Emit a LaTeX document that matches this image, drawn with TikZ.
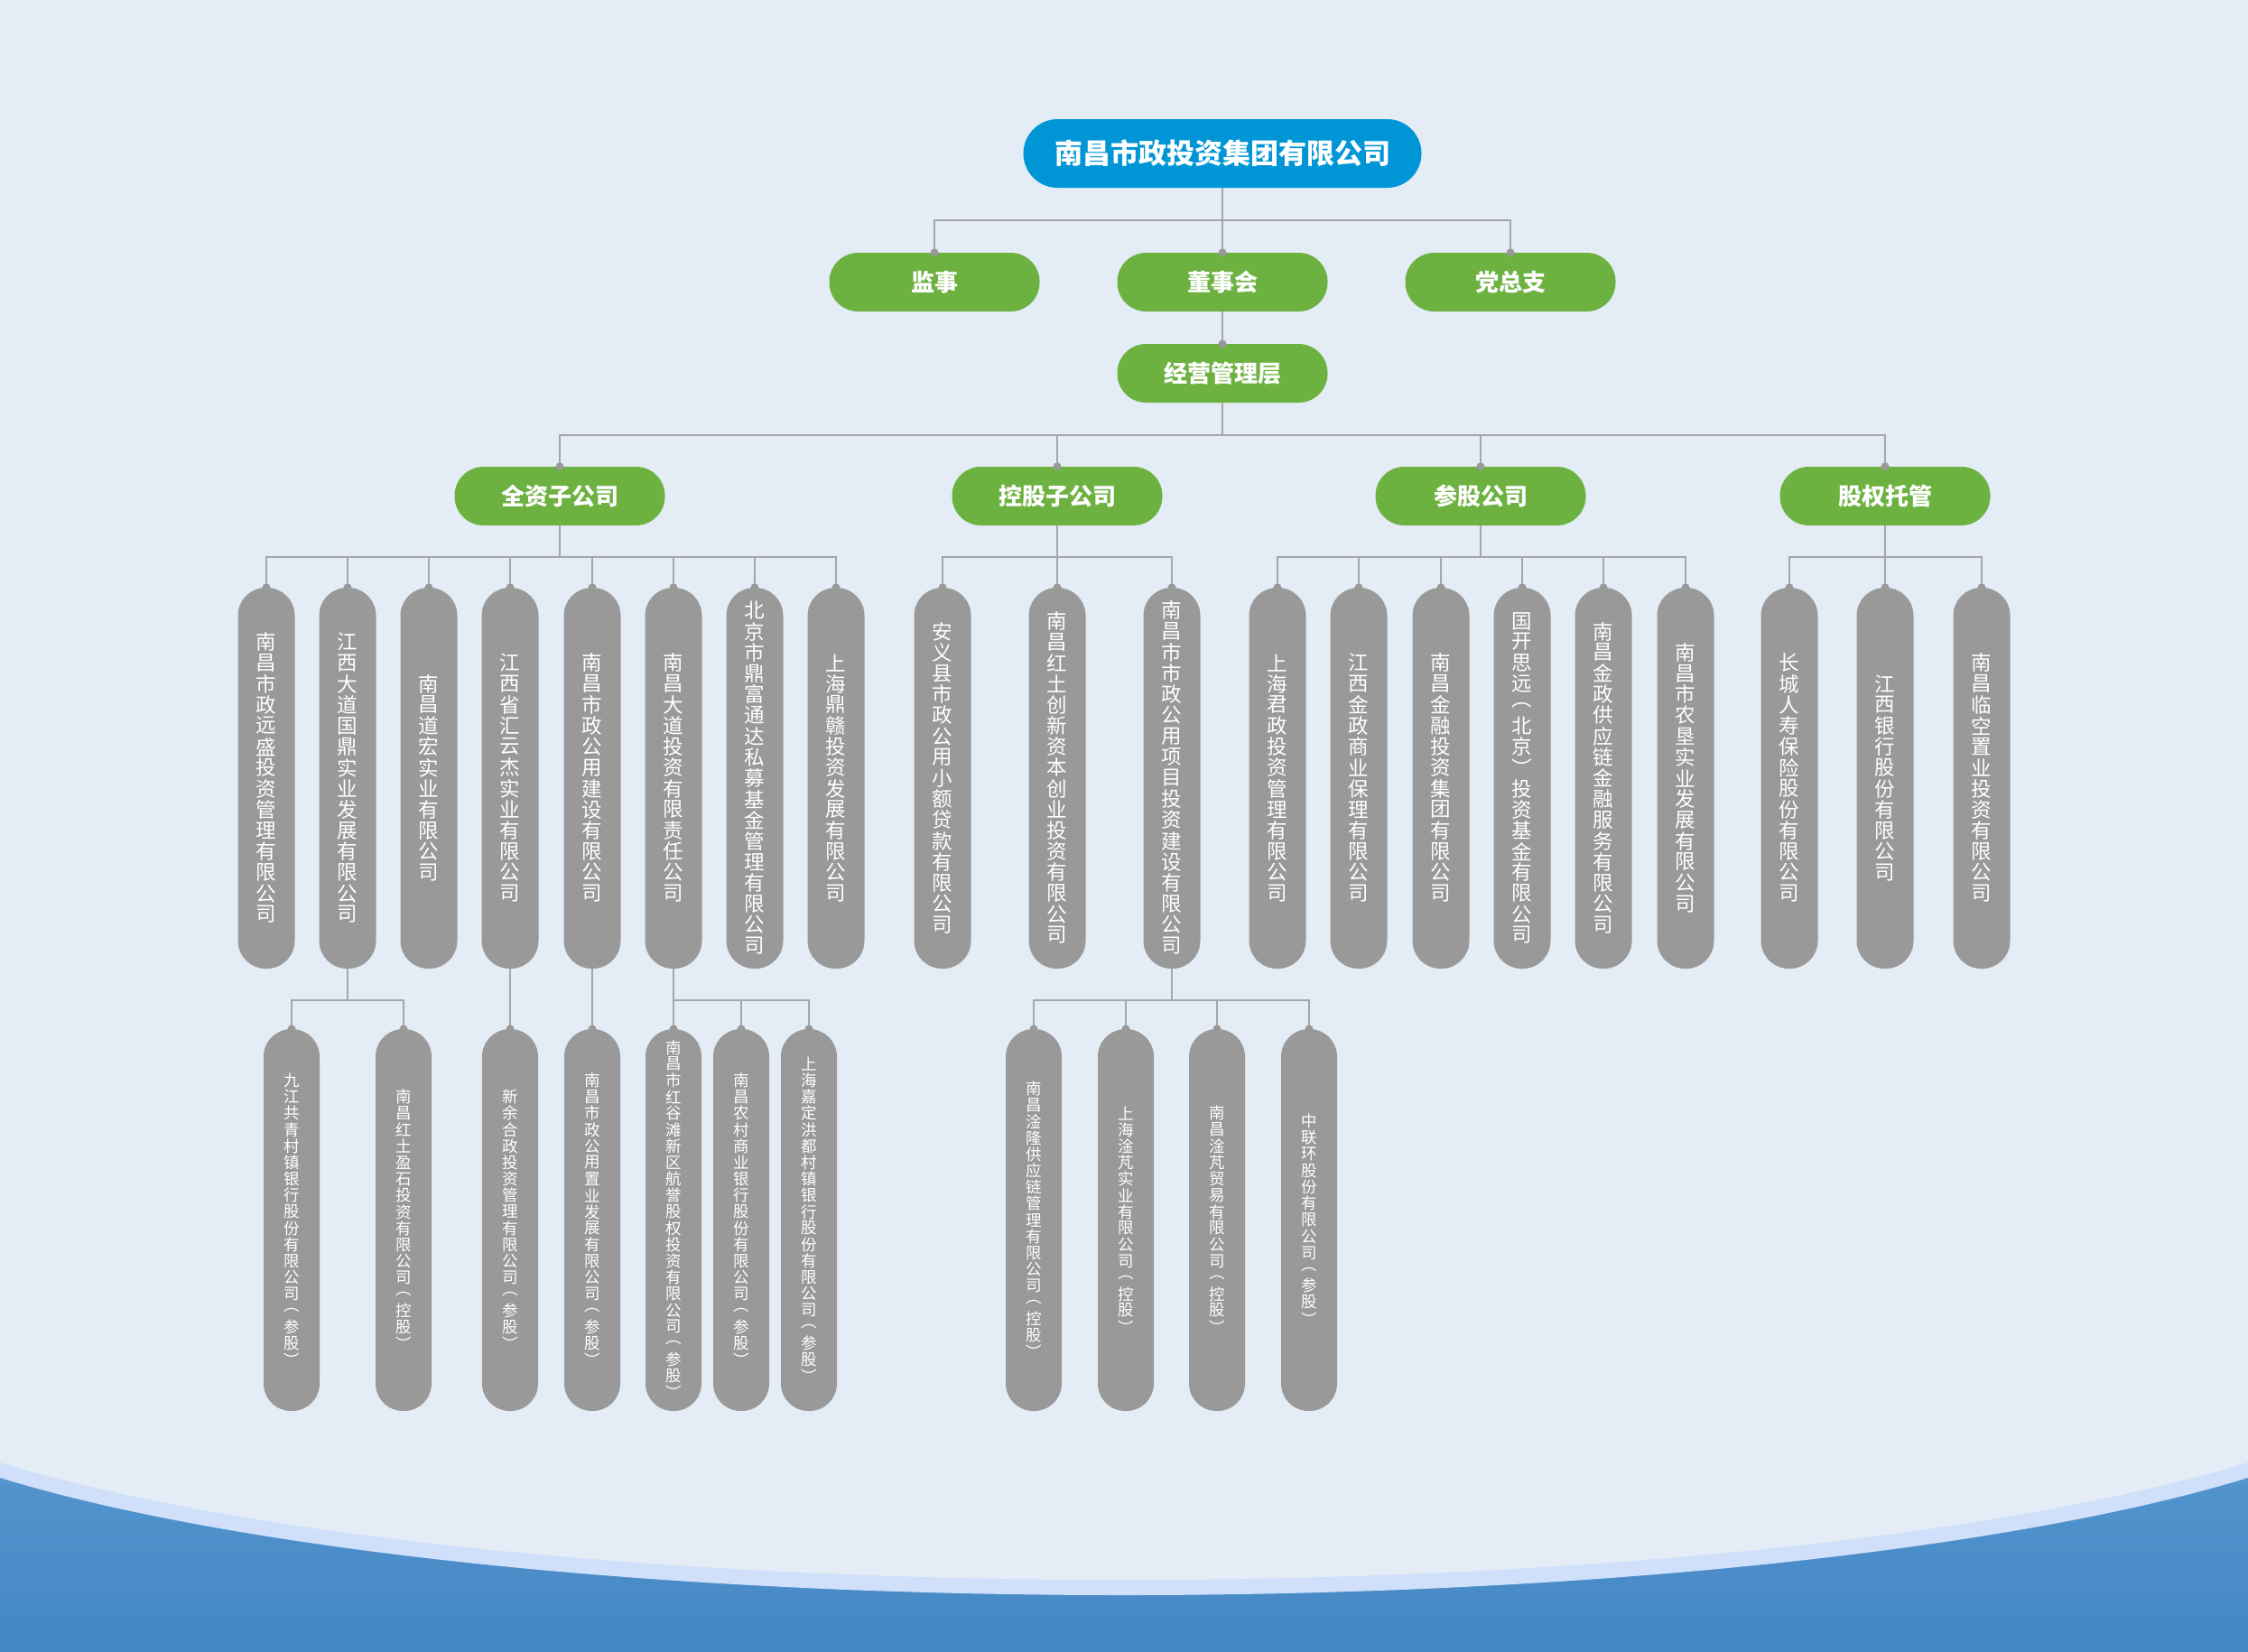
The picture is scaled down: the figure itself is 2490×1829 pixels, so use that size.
\documentclass[tikz,border=0pt]{standalone}
\usepackage{fontspec}
\setmainfont{Noto Sans CJK SC}
\definecolor{bgc}{HTML}{E4EDF5}
\definecolor{bandc}{HTML}{D0E0FA}
\definecolor{bluetop}{HTML}{5E9DD3}
\definecolor{bluebot}{HTML}{4387C4}
\definecolor{titlec}{HTML}{0096D6}
\definecolor{greenc}{HTML}{6DB241}
\definecolor{pillc}{HTML}{999999}
\definecolor{linec}{HTML}{A6A6A6}
\definecolor{dotcol}{HTML}{999999}
\newdimen\vpitch
\def\vt#1#2{\vbox{\offinterlineskip\vpitch=#1\relax\vtA#2\relax}}
\def\vtA#1{\ifx\relax#1\else\hbox to 1.1em{\hss\vbox to\vpitch{\vss\hbox{#1}\vss}\hss}\expandafter\vtA\fi}
\newcommand\vtL[1]{\vt{23.2pt}{#1}}
\newcommand\vtS[1]{\vt{18.2pt}{#1}}
\newcommand\orglink[3]{\draw[conn] (#1.south) -- ++(0,#3) -| (#2.north);\fill[dotcol] (#2.north) circle[radius=4.5pt];}
\tikzset{
  conn/.style={draw=linec, line width=1.6pt},
  topnode/.style={fill=titlec, rounded corners=38pt, minimum width=441pt, minimum height=76pt, text=white, inner sep=0pt, font=\bfseries\fontsize{31}{34}\selectfont},
  gnode/.style={fill=greenc, rounded corners=32pt, minimum width=233pt, minimum height=65pt, text=white, inner sep=0pt, font=\bfseries\fontsize{26}{28}\selectfont},
  pillA/.style={fill=pillc, rounded corners=31pt, minimum width=63pt, minimum height=422pt, text=white, inner sep=0pt, font=\fontsize{22.5}{23}\selectfont},
  pillB/.style={fill=pillc, rounded corners=30.5pt, minimum width=62pt, minimum height=423pt, text=white, inner sep=0pt, font=\fontsize{17.5}{18}\selectfont},
}
\begin{document}
\begin{tikzpicture}[x=1pt, y=-1pt]
\useasboundingbox (0,0) rectangle (2490,1829);
\fill[bgc] (0,0) rectangle (2490,1829);
% bottom wave
\begin{scope}
  \clip (0,1500) rectangle (2490,1829);
  \shade[top color=bluetop, bottom color=bluebot] (0,1500) rectangle (2490,1829);
  \fill[bandc] (1245,1500) ellipse [x radius=1450pt, y radius=267pt];
  \fill[bgc] (1245,1483) ellipse [x radius=1450pt, y radius=267pt];
\end{scope}

% top levels
\node[topnode] (top) at (1354,170) {南昌市政投资集团有限公司};
\node[gnode] (js) at (1035,312.5) {监事};
\node[gnode] (dsh) at (1354,312.5) {董事会};
\node[gnode] (dzz) at (1673,312.5) {党总支};
\node[gnode] (jy) at (1354,413.5) {经营管理层};
\node[gnode] (qz) at (620,549.5) {全资子公司};
\node[gnode] (kg) at (1171,549.5) {控股子公司};
\node[gnode] (cg) at (1640,549.5) {参股公司};
\node[gnode] (gq) at (2088,549.5) {股权托管};

% row 1
\node[pillA] (a1) at (295,862) {\vtL{南昌市政远盛投资管理有限公司}};
\node[pillA] (a2) at (385,862) {\vtL{江西大道国鼎实业发展有限公司}};
\node[pillA] (a3) at (475,862) {\vtL{南昌道宏实业有限公司}};
\node[pillA] (a4) at (565,862) {\vtL{江西省汇云杰实业有限公司}};
\node[pillA] (a5) at (656,862) {\vtL{南昌市政公用建设有限公司}};
\node[pillA] (a6) at (746,862) {\vtL{南昌大道投资有限责任公司}};
\node[pillA] (a7) at (836,862) {\vtL{北京市鼎富通达私募基金管理有限公司}};
\node[pillA] (a8) at (926,862) {\vtL{上海鼎赣投资发展有限公司}};
\node[pillA] (b1) at (1044,862) {\vtL{安义县市政公用小额贷款有限公司}};
\node[pillA] (b2) at (1171,862) {\vtL{南昌红土创新资本创业投资有限公司}};
\node[pillA] (b3) at (1298,862) {\vtL{南昌市市政公用项目投资建设有限公司}};
\node[pillA] (c1) at (1415,862) {\vtL{上海君政投资管理有限公司}};
\node[pillA] (c2) at (1505,862) {\vtL{江西金政商业保理有限公司}};
\node[pillA] (c3) at (1596,862) {\vtL{南昌金融投资集团有限公司}};
\node[pillA] (c4) at (1686,862) {\vtL{国开思远︵北京︶投资基金有限公司}};
\node[pillA] (c5) at (1776,862) {\vtL{南昌金政供应链金融服务有限公司}};
\node[pillA] (c6) at (1867,862) {\vtL{南昌市农垦实业发展有限公司}};
\node[pillA] (d1) at (1982,862) {\vtL{长城人寿保险股份有限公司}};
\node[pillA] (d2) at (2088,862) {\vtL{江西银行股份有限公司}};
\node[pillA] (d3) at (2195,862) {\vtL{南昌临空置业投资有限公司}};

% row 2
\node[pillB] (e1) at (323,1351.5) {\vtS{九江共青村镇银行股份有限公司︵参股︶}};
\node[pillB] (e2) at (447,1351.5) {\vtS{南昌红土盈石投资有限公司︵控股︶}};
\node[pillB] (e3) at (565,1351.5) {\vtS{新余合政投资管理有限公司︵参股︶}};
\node[pillB] (e4) at (656,1351.5) {\vtS{南昌市政公用置业发展有限公司︵参股︶}};
\node[pillB] (e5) at (746,1351.5) {\vtS{南昌市红谷滩新区航誉股权投资有限公司︵参股︶}};
\node[pillB] (e6) at (821,1351.5) {\vtS{南昌农村商业银行股份有限公司︵参股︶}};
\node[pillB] (e7) at (896,1351.5) {\vtS{上海嘉定洪都村镇银行股份有限公司︵参股︶}};
\node[pillB] (f1) at (1145,1351.5) {\vtS{南昌淦隆供应链管理有限公司︵控股︶}};
\node[pillB] (f2) at (1247,1351.5) {\vtS{上海淦芃实业有限公司︵控股︶}};
\node[pillB] (f3) at (1348,1351.5) {\vtS{南昌淦芃贸易有限公司︵控股︶}};
\node[pillB] (f4) at (1450,1351.5) {\vtS{中联环股份有限公司︵参股︶}};

% connectors
\orglink{top}{js}{36}
\orglink{top}{dsh}{36}
\orglink{top}{dzz}{36}
\draw[conn] (dsh.south) -- (jy.north);
\fill[dotcol] (jy.north) circle[radius=4.5pt];
\foreach \c in {qz,kg,cg,gq}{\orglink{jy}{\c}{36}}
\foreach \c in {a1,a2,a3,a4,a5,a6,a7,a8}{\orglink{qz}{\c}{35}}
\foreach \c in {b1,b2,b3}{\orglink{kg}{\c}{35}}
\foreach \c in {c1,c2,c3,c4,c5,c6}{\orglink{cg}{\c}{35}}
\foreach \c in {d1,d2,d3}{\orglink{gq}{\c}{35}}
\foreach \c in {e1,e2}{\orglink{a2}{\c}{35}}
\orglink{a4}{e3}{35}
\orglink{a5}{e4}{35}
\foreach \c in {e5,e6,e7}{\orglink{a6}{\c}{35}}
\foreach \c in {f1,f2,f3,f4}{\orglink{b3}{\c}{35}}
\end{tikzpicture}
\end{document}
